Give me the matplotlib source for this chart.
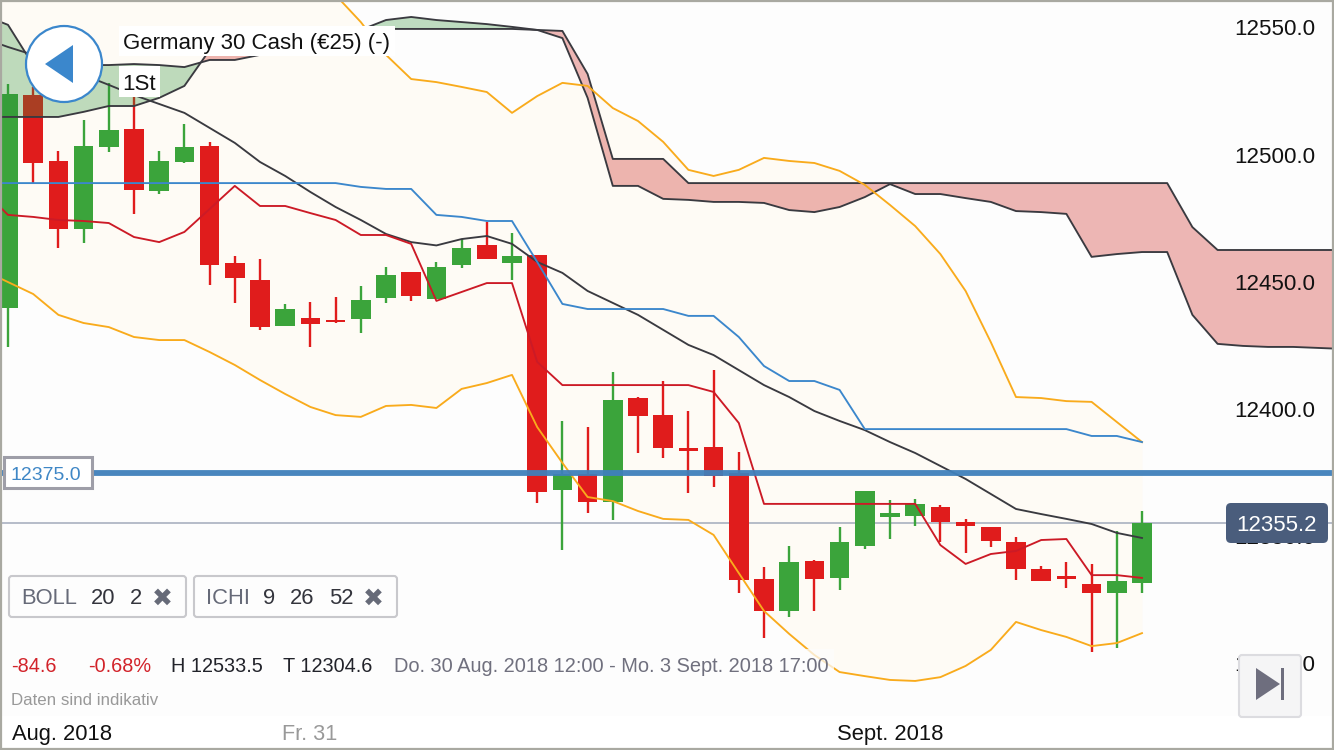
import numpy as np
import matplotlib
matplotlib.use('Agg')
import matplotlib.pyplot as plt
from matplotlib.patches import Rectangle, FancyBboxPatch, Circle, Polygon

plt.rcParams['font.family'] = ['Liberation Sans', 'DejaVu Sans']

# candles, one per 2 hours or so
opens = [12439.7, 12523.6, 12497.5, 12470.8, 12503.0, 12510.1, 12485.7, 12497.1, 12503.4, 12457.4,
         12450.7, 12432.6, 12435.8, 12435.0, 12435.4, 12443.6, 12453.9, 12443.2, 12456.6, 12464.5,
         12457.4, 12460.5, 12368.2, 12374.4, 12363.4, 12404.3, 12397.6, 12384.7, 12385.1, 12374.8,
         12333.2, 12320.6, 12340.2, 12333.6, 12346.1, 12357.5, 12357.9, 12361.5, 12355.6, 12353.6,
         12347.7, 12337.1, 12334.4, 12331.2, 12327.7, 12331.6]
highs = [12527.8, 12526.6, 12501.4, 12513.6, 12528.2, 12533.5, 12501.4, 12512.0, 12505.0, 12460.1,
         12459.0, 12441.3, 12442.1, 12444.0, 12448.4, 12455.8, 12453.9, 12457.8, 12466.8, 12473.5,
         12469.2, 12460.5, 12395.3, 12392.9, 12414.5, 12404.7, 12411.0, 12399.2, 12415.3, 12383.1,
         12337.9, 12346.1, 12340.6, 12353.6, 12367.8, 12364.2, 12364.6, 12362.3, 12356.8, 12353.6,
         12349.7, 12338.3, 12339.9, 12339.1, 12352.0, 12359.9]
lows = [12424.4, 12488.4, 12463.3, 12465.3, 12501.0, 12476.7, 12484.5, 12496.7, 12448.7, 12441.7,
        12431.1, 12432.6, 12424.4, 12433.8, 12429.9, 12441.7, 12442.5, 12443.2, 12455.4, 12459.0,
        12450.7, 12363.0, 12344.6, 12359.1, 12356.4, 12382.7, 12380.7, 12367.0, 12369.3, 12327.7,
        12310.0, 12318.2, 12320.6, 12328.8, 12345.0, 12348.9, 12354.0, 12347.7, 12343.4, 12345.8,
        12332.8, 12332.4, 12329.6, 12304.6, 12306.0, 12327.7]
closes = [12523.8, 12496.7, 12470.8, 12503.4, 12509.7, 12486.1, 12497.5, 12503.0, 12456.6, 12451.5,
          12432.2, 12439.3, 12433.4, 12434.2, 12442.8, 12452.7, 12444.4, 12455.8, 12463.3, 12459.0,
          12460.1, 12367.4, 12374.4, 12363.4, 12403.5, 12397.2, 12384.7, 12383.5, 12373.7, 12332.8,
          12320.6, 12339.9, 12333.2, 12347.7, 12367.8, 12359.1, 12362.7, 12355.6, 12354.0, 12348.1,
          12337.1, 12332.4, 12333.2, 12327.7, 12332.4, 12355.2]

# indicators start one candle before the first visible one
boll_upper = [12578.0, 12580.0, 12581.0, 12582.0, 12581.0, 12580.0, 12579.0, 12578.0, 12577.0, 12576.0,
              12575.0, 12574.0, 12573.0, 12572.5, 12562.7, 12552.1, 12539.2, 12529.7, 12528.5, 12526.6,
              12524.6, 12516.4, 12523.0, 12528.2, 12527.0, 12518.3, 12513.2, 12505.0, 12494.0, 12491.6,
              12494.0, 12498.7, 12497.5, 12496.7, 12493.6, 12488.1, 12480.2, 12471.9, 12460.9, 12446.4,
              12426.3, 12404.7, 12404.3, 12403.1, 12402.8, 12394.9, 12387.0]
boll_lower = [12454.6, 12449.9, 12445.2, 12437.0, 12433.8, 12432.2, 12428.3, 12427.1, 12427.1, 12422.4,
              12417.3, 12411.4, 12405.9, 12400.8, 12397.6, 12396.9, 12401.2, 12401.6, 12400.4, 12407.9,
              12410.2, 12413.4, 12392.9, 12378.8, 12365.4, 12363.8, 12359.9, 12356.8, 12356.4, 12350.5,
              12335.5, 12320.6, 12311.6, 12303.3, 12296.6, 12295.0, 12293.5, 12293.1, 12294.6, 12299.0,
              12305.3, 12316.3, 12313.1, 12310.4, 12306.8, 12308.0, 12311.9]
boll_mid = [12545.8, 12542.3, 12539.2, 12536.4, 12531.3, 12527.4, 12523.4, 12519.9, 12516.4, 12510.5,
            12504.6, 12497.1, 12491.6, 12485.3, 12479.4, 12474.3, 12468.8, 12465.6, 12464.3, 12466.8,
            12468.0, 12464.9, 12457.8, 12453.5, 12446.4, 12441.7, 12437.0, 12431.1, 12425.2, 12421.2,
            12415.3, 12409.4, 12404.7, 12399.2, 12395.3, 12391.7, 12387.0, 12382.7, 12377.6, 12372.5,
            12366.6, 12360.7, 12358.7, 12356.8, 12354.8, 12351.3, 12349.3]
tenkan = [12486.1, 12476.3, 12475.5, 12474.3, 12473.9, 12473.1, 12467.6, 12465.6, 12469.6, 12478.6,
          12487.7, 12479.8, 12479.8, 12477.0, 12474.3, 12468.4, 12468.4, 12464.9, 12442.5, 12446.0,
          12449.5, 12449.5, 12418.5, 12409.4, 12409.4, 12409.4, 12409.4, 12409.4, 12409.4, 12406.7,
          12394.5, 12362.7, 12362.7, 12362.7, 12362.7, 12362.7, 12362.7, 12362.7, 12346.5, 12339.1,
          12343.0, 12344.2, 12348.5, 12348.9, 12334.7, 12334.7, 12333.6]
kijun = [12488.8] * 15 + [12487.3, 12486.5, 12486.5, 12476.3, 12475.5, 12473.9, 12473.9, 12457.8, 12441.3,
         12439.3, 12439.3, 12439.3, 12439.3, 12436.6, 12436.6, 12428.3, 12416.9, 12411.0, 12411.0,
         12407.5] + [12392.1] * 9 + [12389.4, 12389.4, 12387.0]

# cloud runs 8 candles past the last one
span_a = [12554.9, 12551.0, 12535.2, 12535.2, 12535.2, 12535.2, 12535.6, 12535.2, 12534.4, 12537.2,
          12537.2, 12539.2, 12541.9, 12544.3, 12545.8, 12549.0, 12552.9, 12554.1, 12552.9, 12552.1,
          12551.3, 12550.2, 12549.0, 12545.8, 12522.3, 12487.7, 12487.7, 12482.6, 12482.2, 12481.4,
          12481.4, 12481.0, 12478.2, 12477.4, 12479.4, 12483.3, 12488.4, 12484.5, 12484.5, 12482.9,
          12481.4, 12477.8, 12477.4, 12476.7, 12459.8, 12460.9, 12461.7, 12461.7, 12437.0, 12425.6,
          12424.8, 12424.4, 12424.4, 12424.0, 12423.6]
span_b = [12514.8, 12514.8, 12514.8, 12514.8, 12516.8, 12519.1, 12519.1, 12522.3, 12527.0, 12541.1,
          12543.1, 12544.3, 12545.1, 12545.8, 12546.6, 12547.8, 12549.4, 12549.4, 12549.4, 12549.4,
          12549.4, 12549.4, 12549.0, 12548.6, 12531.7, 12498.3, 12498.3, 12498.3] + [12488.8] * 20 + [
          12471.5] + [12462.5] * 6

y_ticks = [12550, 12500, 12450, 12400, 12350, 12300]
last_price = 12355.2
level_price = 12375.0

GREEN = '#3ba43b'
RED = '#e01c1c'
ORANGE = '#f9ab1c'
BLUE = '#3b87cc'
DARK = '#3a3a40'
LINE_RED = '#cc1a26'
LW = 1.35


def draw_chart(ax):
    """Candles, Bollinger band and Ichimoku lines in price coordinates."""
    n = len(closes)
    idx = np.arange(n)
    ind_x = np.arange(-1, n)
    cloud_x = np.arange(-1, len(span_a) - 1)

    ax.fill_between(ind_x, boll_lower, boll_upper, color='#fefbf5', lw=0, zorder=1)
    ax.plot([-1, 60], [last_price, last_price], color='#a9b1c0', lw=1.2, zorder=2)

    o = np.array(opens)
    c = np.array(closes)
    colors = [GREEN if c[i] >= o[i] else RED for i in range(n)]
    ax.vlines(idx, lows, highs, colors=colors, lw=1.7, zorder=3)
    ax.bar(idx, np.abs(c - o), bottom=np.minimum(o, c), width=0.78, color=colors, lw=0, zorder=4)

    a = np.array(span_a)
    b = np.array(span_b)
    ax.fill_between(cloud_x, a, b, where=a >= b, interpolate=True, color='#2d9036', alpha=0.3, lw=0, zorder=5)
    ax.fill_between(cloud_x, a, b, where=a <= b, interpolate=True, color='#d0322c', alpha=0.35, lw=0, zorder=5)
    ax.plot(cloud_x, a, color=DARK, lw=LW, zorder=6)
    ax.plot(cloud_x, b, color=DARK, lw=LW, zorder=6)

    ax.plot(ind_x, boll_upper, color=ORANGE, lw=LW, zorder=6)
    ax.plot(ind_x, boll_lower, color=ORANGE, lw=LW, zorder=6)
    ax.plot(ind_x, boll_mid, color=DARK, lw=LW, zorder=6)
    ax.plot(ind_x, kijun, color=BLUE, lw=LW, zorder=6)
    ax.plot(ind_x, tenkan, color=LINE_RED, lw=LW, zorder=6)

    ax.plot([-1, 60], [level_price, level_price], color='#3f80bb', lw=4.2, alpha=0.95, zorder=7)

    for t in y_ticks:
        ax.text(51.87, t, f'{t:.1f}', ha='right', va='center_baseline', fontsize=16.1, color='#111111', zorder=8)


def box(ui, x0, y0, x1, y1, face='white', edge='none', lw=0, rad=0, alpha=1.0, z=10):
    if rad:
        p = FancyBboxPatch((x0, y0), x1 - x0, y1 - y0, boxstyle=f'round,pad=0,rounding_size={rad}',
                           fc=face, ec=edge, lw=lw, alpha=alpha, zorder=z)
    else:
        p = Rectangle((x0, y0), x1 - x0, y1 - y0, fc=face, ec=edge, lw=lw, alpha=alpha, zorder=z)
    ui.add_patch(p)


def label(ui, x, y, s, size=14.4, color='#111111', ha='left', weight='normal'):
    ui.text(x, y, s, fontsize=size, color=color, ha=ha, va='center_baseline', weight=weight, zorder=12)


def draw_ui(ui):
    """Buttons, chips and captions sitting on top of the chart, in pixels."""
    # back button and title
    box(ui, 119, 26, 395, 56)
    box(ui, 119, 66, 160, 97)
    ui.add_patch(Circle((64, 64), 38, fc='white', ec=BLUE, lw=1.6, zorder=11))
    ui.add_patch(Polygon([(45, 64), (73, 45), (73, 83)], fc=BLUE, ec='none', zorder=12))
    label(ui, 123, 41.5, 'Germany 30 Cash (€25) (-)', size=16)
    label(ui, 122, 81.5, '1St', size=16)

    # level and last price
    box(ui, 3.5, 457, 91.5, 488, edge='#9e9ea8', lw=2.2)
    label(ui, 10, 474, '12375.0', size=14, color='#3f87c6')
    box(ui, 1226, 503, 1328, 543, face='#4a5d7c', rad=5)
    label(ui, 1276, 523, '12355.2', size=16, color='white', ha='center')

    # indicator chips
    box(ui, 9, 576, 186, 617, face='#fdfdfd', edge='#c8c8cc', lw=1.5, rad=3)
    box(ui, 194, 576, 397, 617, face='#fdfdfd', edge='#c8c8cc', lw=1.5, rad=3)
    label(ui, 21, 596, 'BOLL', size=15.8, color='#666a78')
    label(ui, 91, 596, '20', size=15.8, color='#33343c')
    label(ui, 130, 596, '2', size=15.8, color='#33343c')
    label(ui, 206, 596, 'ICHI', size=15.8, color='#666a78')
    label(ui, 263, 596, '9', size=15.8, color='#33343c')
    label(ui, 290, 596, '26', size=15.8, color='#33343c')
    label(ui, 329, 596, '52', size=15.8, color='#33343c')
    label(ui, 162, 596, '✖', size=18, color='#666a78', ha='center')
    label(ui, 373, 596, '✖', size=18, color='#666a78', ha='center')

    # stats row
    box(ui, 5, 649, 834, 680, face='#fdfdfd', alpha=0.75)
    label(ui, 11, 664.5, '-84.6', size=14.3, color='#d2232a')
    label(ui, 88, 664.5, '-0.68%', size=14.3, color='#d2232a')
    label(ui, 171, 664.5, 'H 12533.5', size=14.3, color='#22232a')
    label(ui, 283, 664.5, 'T 12304.6', size=14.3, color='#22232a')
    label(ui, 394, 664.5, 'Do. 30 Aug. 2018 12:00 - Mo. 3 Sept. 2018 17:00', size=14.4, color='#70707e')
    label(ui, 11, 699, 'Daten sind indikativ', size=12.2, color='#999999')

    # time axis
    box(ui, 0, 716, 1334, 750, z=9)
    label(ui, 12, 732, 'Aug. 2018', size=15.8, color='#111111')
    label(ui, 282, 732, 'Fr. 31', size=15.6, color='#999999')
    label(ui, 837, 732, 'Sept. 2018', size=15.8, color='#111111')

    # jump to end button
    box(ui, 1239, 655, 1301, 717, face='#f5f5f6', edge='#dcdce0', lw=1.5, rad=3, z=11)
    ui.add_patch(Polygon([(1256, 668), (1256, 700), (1280, 684)], fc='#6e6e7e', ec='none', zorder=12))
    ui.add_patch(Rectangle((1281, 668), 2.5, 32, fc='#6e6e7e', ec='none', zorder=12))

    # frame
    ui.add_patch(Rectangle((1, 1), 1332, 748, fc='none', ec='#a9a9a1', lw=1.6, zorder=20))


if __name__ == "__main__":
    fig = plt.figure(figsize=(13.34, 7.5), dpi=100, facecolor='#fdfdfd')

    ax = fig.add_axes([0, 0, 1, 1])
    ax.set_xlim(-8 / 25.2, 1326 / 25.2)
    ax.set_ylim(12400 - 341 / 2.544, 12400 + 409 / 2.544)
    ax.set_facecolor('#fdfdfd')
    ax.axis('off')
    draw_chart(ax)

    ui = fig.add_axes([0, 0, 1, 1])
    ui.set_xlim(0, 1334)
    ui.set_ylim(750, 0)
    ui.axis('off')
    draw_ui(ui)

    fig.savefig('out.png', dpi=100, facecolor=fig.get_facecolor())
